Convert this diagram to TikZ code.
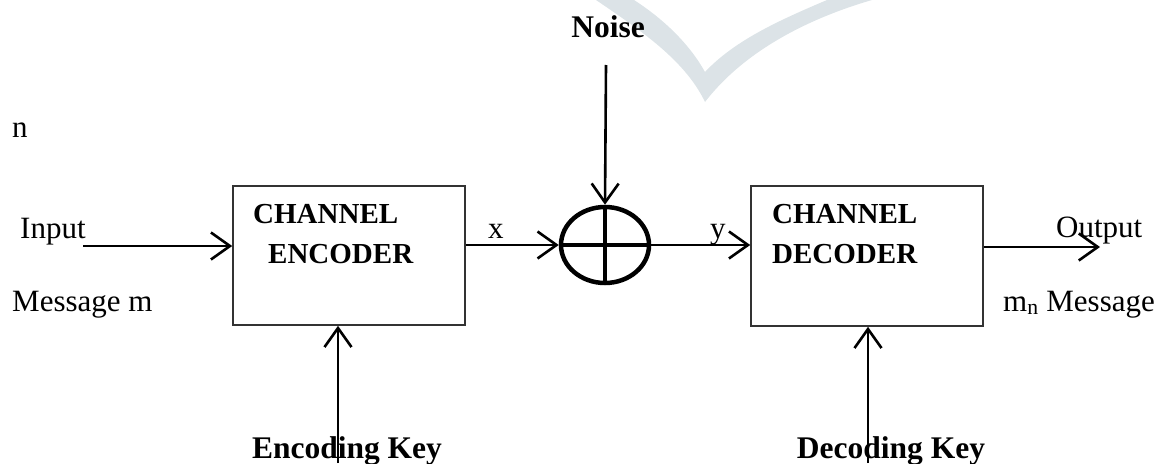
\documentclass[tikz,border=0pt]{standalone}
\usepackage{fontspec}
\setmainfont{Liberation Serif}
\usetikzlibrary{arrows.meta,shapes.geometric}
\begin{document}
\begin{tikzpicture}[x=1pt,y=-1pt,
  blk/.style={draw=black!80,line width=1.6pt,rectangle,inner sep=0pt},
  conn/.style={line width=2.6pt,-{Straight Barb[length=19pt,width=27pt,line width=2.6pt]}},
  plain/.style={font=\fontsize{31}{35}\selectfont,inner sep=0pt,anchor=base west},
  bold/.style={font=\fontsize{31.5}{35}\selectfont\bfseries,inner sep=0pt,anchor=base west},
  boxtxt/.style={font=\fontsize{29}{34}\selectfont\bfseries,inner sep=0pt,anchor=base west}]
\useasboundingbox (0,0) rectangle (1164,463);
% watermark
\fill[color={rgb,255:red,220;green,227;blue,231}]
  (596,0) .. controls (640,30) and (685,60) .. (705,102)
  .. controls (745,50) and (810,18) .. (872,0)
  -- (827,0) .. controls (780,20) and (735,40) .. (705,72)
  .. controls (690,45) and (665,20) .. (634,0) -- cycle;
% blocks
\node[blk,minimum width=232pt,minimum height=139pt] (enc) at (349,255.5) {};
\node[blk,minimum width=232pt,minimum height=140pt] (dec) at (867,256) {};
\node[draw,ellipse,line width=4.5pt,minimum width=88pt,minimum height=76pt,inner sep=0pt] (sum) at (605,245) {};
\draw[line width=3.4pt] (sum.north) -- (sum.south);
\draw[line width=3.4pt] (sum.west) -- (sum.east);
% texts
\node[boxtxt] (c1) at (253,223) {CHANNEL};
\node[boxtxt] (c2) at (268,263) {ENCODER};
\node[boxtxt] (c3) at (772,223) {CHANNEL};
\node[boxtxt] (c4) at (772,263) {DECODER};
\node[plain] (tn) at (12,137) {n};
\node[plain] (tin) at (20,238) {Input};
\node[plain] (tmsg) at (12,311) {Message m};
\node[plain] (tout) at (1056,237) {Output};
\node[plain] (tmn) at (1003,311) {m\textsubscript{n} Message};
\node[plain] (tx) at (488,238) {x};
\node[plain] (ty) at (710,238) {y};
\node[bold,anchor=base] (tnoise) at (608,37) {Noise};
\node[bold,anchor=base] (tek) at (347,458) {Encoding Key};
\node[bold,anchor=base] (tdk) at (891,458) {Decoding Key};
% connectors
\coordinate (in) at (83,246);
\coordinate (out) at (1100,247);
\coordinate (nz) at (606,65);
\coordinate (ek) at (338,463);
\coordinate (dk) at (868,463);
\draw[conn] (in) -- (in -| enc.west);
\draw[conn] (enc.east |- sum.west) -- (sum.west);
\draw[conn] (sum.east) -- (sum.east -| dec.west);
\draw[conn] (dec.east |- out) -- (out);
\draw[conn] (nz) -- (sum.north);
\draw[conn] (ek) -- (ek |- enc.south);
\draw[conn] (dk) -- (dk |- dec.south);
\end{tikzpicture}
\end{document}
